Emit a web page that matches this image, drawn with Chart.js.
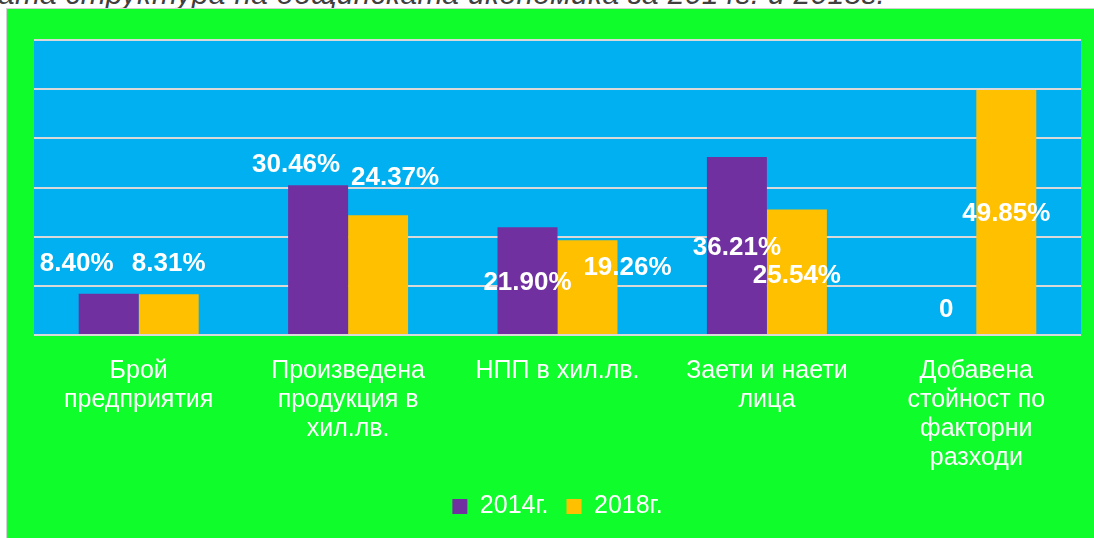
<!DOCTYPE html>
<html>
<head>
<meta charset="utf-8">
<script src="https://cdn.jsdelivr.net/npm/chart.js@4.4.0/dist/chart.umd.min.js"></script>
<style>
  body { margin: 0; width: 1094px; height: 538px; overflow: hidden; background: #fff; position: relative; font-family: 'Liberation Sans', sans-serif; }
  #zaglavie { position: absolute; left: -2px; top: -23px; font-style: italic; font-size: 30px; letter-spacing: 0.3px; color: #404040; white-space: nowrap; }
  #kutiya { position: absolute; left: 6px; top: 8px; width: 1088px; height: 530px; background: #10fd2c; border-left: 1px solid #d0d0d0; border-top: 1px solid #d0d0d0; }
  #grafika { display: block; }
</style>
</head>
<body>
<div id="zaglavie">ата структура на общинската икономика за 2014г. и 2018г.</div>
<div id="kutiya"><canvas id="grafika" width="1087" height="529"></canvas></div>
<script>
// Данни
const kategorii = [
    ['Брой', 'предприятия'],
    ['Произведена', 'продукция в', 'хил.лв.'],
    'НПП в хил.лв.',
    ['Заети и наети', 'лица'],
    ['Добавена', 'стойност по', 'факторни', 'разходи']
];
const stoinosti2014 = [8.40, 30.46, 21.90, 36.21, 0];
const stoinosti2018 = [8.31, 24.37, 19.26, 25.54, 49.85];
const imenaSerii = ['2014г.', '2018г.'];
const osY = { min: 0, max: 60, stupka: 10 };

// отместване на етикетите спрямо върха на стълба (px), както са разместени в оригинала
const otmestvane2014 = [[-32, -30], [-22, -20], [0, 56], [0, 91], [0, -25]];
const otmestvane2018 = [[0, -30], [17, -37], [40, 28], [0, 66], [0, 124]];

// син фон на зоната с данни
const fonZona = {
    id: 'fonZona',
    beforeDraw(chart) {
        const { ctx, chartArea: a } = chart;
        ctx.save();
        ctx.fillStyle = '#00b0f0';
        ctx.fillRect(a.left, a.top, a.width, a.height);
        ctx.restore();
    }
};

// етикети с процентите
const etiketi = {
    id: 'etiketi',
    afterDatasetsDraw(chart) {
        const ctx = chart.ctx;
        ctx.save();
        ctx.font = 'bold 26px "Liberation Sans"';
        ctx.fillStyle = '#ffffff';
        ctx.textAlign = 'center';
        ctx.textBaseline = 'middle';
        chart.data.datasets.forEach((ds, i) => {
            chart.getDatasetMeta(i).data.forEach((bar, j) => {
                const [dx, dy] = ds.otmestvane[j];
                const v = ds.data[j];
                const tekst = v === 0 ? '0' : v.toFixed(2) + '%';
                ctx.fillText(tekst, bar.x + dx, bar.y + dy);
            });
        });
        ctx.restore();
    }
};

new Chart(document.getElementById('grafika'), {
    type: 'bar',
    data: {
        labels: kategorii,
        datasets: [{
            label: imenaSerii[0],
            data: stoinosti2014,
            backgroundColor: '#7030a0',
            otmestvane: otmestvane2014
        }, {
            label: imenaSerii[1],
            data: stoinosti2018,
            backgroundColor: '#ffc000',
            otmestvane: otmestvane2018
        }]
    },
    options: {
        responsive: false,
        animation: false,
        categoryPercentage: 0.573,
        barPercentage: 1,
        layout: {
            padding: { left: 27, right: 13, top: 31, bottom: 9 }
        },
        plugins: {
            tooltip: { enabled: false },
            legend: {
                position: 'bottom',
                labels: {
                    color: '#ffffff',
                    boxWidth: 15,
                    boxHeight: 15,
                    padding: 18,
                    font: { family: 'Liberation Sans', size: 25 }
                }
            }
        },
        scales: {
            x: {
                grid: { display: false },
                border: { display: false },
                ticks: {
                    color: '#ffffff',
                    padding: 14,
                    maxRotation: 0,
                    autoSkip: false,
                    font: { family: 'Liberation Sans', size: 25, lineHeight: 1.16 }
                },
                afterFit(scale) { scale.height = 141; }
            },
            y: {
                min: osY.min,
                max: osY.max,
                ticks: { display: false, stepSize: osY.stupka },
                border: { display: false },
                grid: { color: '#d9d9d9', lineWidth: 2, drawTicks: false }
            }
        }
    },
    plugins: [fonZona, etiketi]
});
</script>
</body>
</html>
